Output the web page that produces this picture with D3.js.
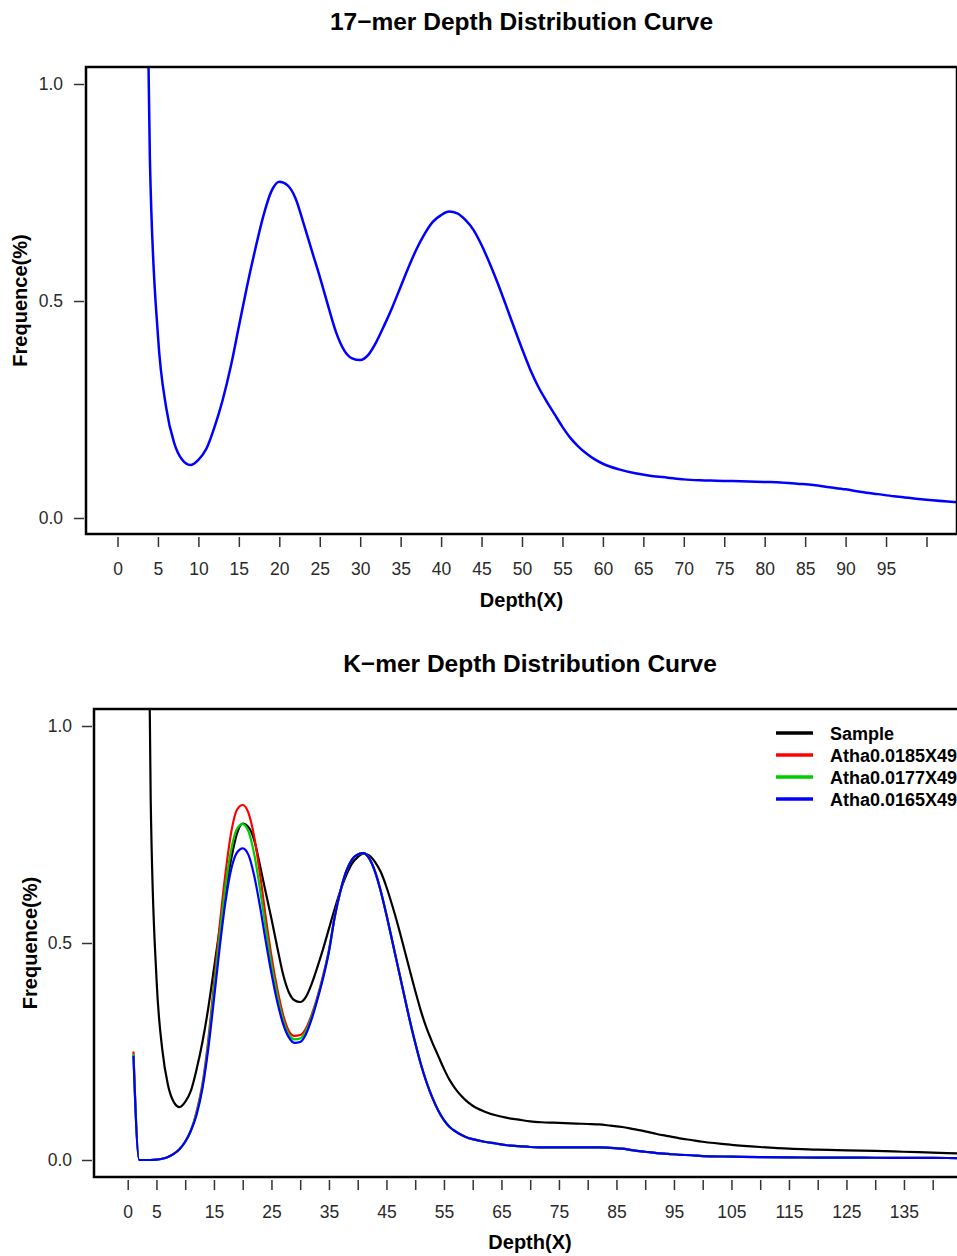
<!DOCTYPE html>
<html>
<head>
<meta charset="utf-8">
<script src="https://cdn.jsdelivr.net/npm/d3@7"></script>
<style>
  body { margin: 0; background: #fff; }
  svg { display: block; font-family: "Liberation Sans", Arial, sans-serif; }
  .tick text { font-size: 17.5px; fill: #2a2a2a; }
  .tick line { stroke: #333; stroke-width: 1.5; }
</style>
</head>
<body>
<svg id="chart" width="957" height="1256"></svg>
<script>
'use strict'

// depth (X) values of the curves
var depth = [1,2,3,4,5,6,7,8,9,10,11,12,13,14,15,16,17,18,19,20,
  21,22,23,24,25,26,27,28,29,30,31,32,33,34,35,36,37,38,39,40,
  41,42,43,44,45,46,47,48,49,50,51,52,53,54,55,56,57,58,59,60,
  62,64,66,68,70,72,74,76,78,80,82,84,86,88,90,92,94,96,98,100,
  105,110,115,120,125,130,135,140,145]

// frequence of the sample (17-mer), first depths are off the chart
var sample = [null,null,2.1,0.83,0.42,0.256,0.173,0.134,0.122,0.134,
  0.16,0.21,0.272,0.349,0.441,0.533,0.617,0.694,0.752,0.775,
  0.767,0.737,0.679,0.617,0.556,0.491,0.429,0.387,0.368,0.364,
  0.376,0.406,0.445,0.487,0.533,0.579,0.621,0.656,0.683,0.698,
  0.706,0.702,0.687,0.664,0.629,0.587,0.541,0.491,0.44,0.39,
  0.343,0.303,0.27,0.24,0.21,0.184,0.164,0.148,0.135,0.125,
  0.112,0.103,0.097,0.093,0.089,0.087,0.086,0.085,0.084,0.083,
  0.082,0.079,0.076,0.071,0.066,0.06,0.055,0.05,0.046,0.042,
  0.035,0.03,0.026,0.024,0.022,0.021,0.019,0.017,0.015]

var atha0185 = [0.25,0,0,0,0.001,0.003,0.007,0.014,0.025,0.042,
  0.068,0.113,0.175,0.275,0.405,0.54,0.66,0.755,0.807,0.818,
  0.8,0.745,0.66,0.56,0.47,0.395,0.336,0.298,0.286,0.288,
  0.303,0.335,0.376,0.426,0.484,0.56,0.62,0.665,0.692,0.704,
  0.707,0.695,0.665,0.62,0.565,0.505,0.445,0.385,0.325,0.27,
  0.22,0.178,0.143,0.114,0.092,0.076,0.066,0.058,0.052,0.048,
  0.042,0.038,0.034,0.032,0.03,0.029,0.029,0.029,0.029,0.029,
  0.029,0.028,0.026,0.022,0.019,0.016,0.014,0.012,0.011,0.009,
  0.0077,0.0065,0.006,0.0056,0.0054,0.0052,0.0049,0.0047,0.0045]

var atha0177 = [0.245,0,0,0,0.001,0.003,0.007,0.014,0.025,0.042,
  0.068,0.11,0.17,0.265,0.39,0.515,0.63,0.715,0.763,0.774,
  0.757,0.705,0.625,0.535,0.45,0.38,0.325,0.29,0.278,0.28,
  0.297,0.33,0.373,0.423,0.482,0.56,0.62,0.665,0.692,0.704,
  0.707,0.695,0.665,0.62,0.565,0.505,0.445,0.385,0.325,0.27,
  0.22,0.178,0.143,0.114,0.092,0.076,0.066,0.058,0.052,0.048,
  0.042,0.038,0.034,0.032,0.03,0.029,0.029,0.029,0.029,0.029,
  0.029,0.028,0.026,0.022,0.019,0.016,0.014,0.012,0.011,0.009,
  0.0077,0.0065,0.006,0.0056,0.0054,0.0052,0.0049,0.0047,0.0045]

var atha0165 = [0.24,0,0,0,0.001,0.003,0.007,0.014,0.025,0.042,
  0.068,0.105,0.165,0.255,0.37,0.49,0.595,0.67,0.708,0.718,
  0.703,0.655,0.585,0.505,0.43,0.365,0.315,0.283,0.27,0.272,
  0.29,0.325,0.37,0.42,0.48,0.56,0.62,0.665,0.692,0.704,
  0.707,0.695,0.665,0.62,0.565,0.505,0.445,0.385,0.325,0.27,
  0.22,0.178,0.143,0.114,0.092,0.076,0.066,0.058,0.052,0.048,
  0.042,0.038,0.034,0.032,0.03,0.029,0.029,0.029,0.029,0.029,
  0.029,0.028,0.026,0.022,0.019,0.016,0.014,0.012,0.011,0.009,
  0.0077,0.0065,0.006,0.0056,0.0054,0.0052,0.0049,0.0047,0.0045]

var legendNames  = ["Sample","Atha0.0185X49","Atha0.0177X49","Atha0.0165X49"]
var legendColors = ["#000000","#ff0000","#00cd00","#0000ff"]

var yTicks  = [0, 0.5, 1]
var yLabels = ["0.0","0.5","1.0"]

var topXTicks  = [0,5,10,15,20,25,30,35,40,45,50,55,60,65,70,75,80,85,90,95,100]
var topXLabels = ["0","5","10","15","20","25","30","35","40","45","50","55","60","65","70","75","80","85","90","95",""]

var botXTicks  = [0,5,10,15,20,25,30,35,40,45,50,55,60,65,70,75,80,85,90,95,100,105,110,115,120,125,130,135,140]
var botXLabels = ["0","5","","15","","25","","35","","45","","55","","65","","75","","85","","95","","105","","115","","125","","135",""]

var svg = d3.select("#chart")

function panel(o){
  var g = svg.append("g")
  var x = d3.scaleLinear().domain(o.xDomain).range(o.xRange)
  var y = d3.scaleLinear().domain([0,1]).range(o.yRange)

  g.append("clipPath").attr("id", o.id)
    .append("rect")
      .attr("x", o.box[0]).attr("y", o.box[1])
      .attr("width", o.box[2] - o.box[0]).attr("height", o.box[3] - o.box[1])

  var line = d3.line()
    .defined(d => d[1] != null)
    .curve(d3.curveMonotoneX)
    .x(d => x(d[0]))
    .y(d => y(d[1]))

  var plot = g.append("g").attr("clip-path", "url(#" + o.id + ")")
  o.series.forEach(s => {
    plot.append("path")
      .datum(depth.map((d,i) => [d, s.values[i]]))
      .attr("d", line)
      .attr("fill", "none")
      .attr("stroke", s.color)
      .attr("stroke-width", s.width)
      .attr("stroke-linejoin", "round")
  })

  // box
  g.append("rect")
    .attr("x", o.box[0]).attr("y", o.box[1])
    .attr("width", o.box[2] - o.box[0]).attr("height", o.box[3] - o.box[1])
    .attr("fill", "none").attr("stroke", "#000").attr("stroke-width", 2.5)

  var xAxis = g.append("g")
    .attr("transform", "translate(0," + (o.box[3] + 3) + ")")
    .call(d3.axisBottom(x).tickValues(o.xTicks).tickFormat((d,i) => o.xLabels[i])
      .tickSizeInner(10).tickSizeOuter(0).tickPadding(16))
  xAxis.select(".domain").remove()

  var yAxis = g.append("g")
    .attr("transform", "translate(" + (o.box[0] - 2) + ",0)")
    .call(d3.axisLeft(y).tickValues(yTicks).tickFormat((d,i) => yLabels[i])
      .tickSizeInner(10).tickSizeOuter(0).tickPadding(o.yPad))
  yAxis.select(".domain").remove()

  var cx = (o.box[0] + o.box[2]) / 2
  g.append("text")
    .attr("x", cx).attr("y", o.titleY)
    .attr("text-anchor", "middle")
    .style("font-size", "24.5px").style("font-weight", "bold")
    .text(o.title)

  g.append("text")
    .attr("x", cx).attr("y", o.xTitleY)
    .attr("text-anchor", "middle")
    .style("font-size", "20px").style("font-weight", "bold")
    .text("Depth(X)")

  g.append("text")
    .attr("transform", "translate(" + o.yTitleX + "," + (o.box[1] + o.box[3]) / 2 + ") rotate(-90)")
    .attr("text-anchor", "middle")
    .style("font-size", "20px").style("font-weight", "bold")
    .text("Frequence(%)")

  return g
}

panel({
  id: "clipTop",
  box: [86, 67, 957, 534],
  xDomain: [0, 100], xRange: [117.5, 926.5],
  yRange: [518, 84],
  xTicks: topXTicks, xLabels: topXLabels, yPad: 11,
  title: "17\u2212mer Depth Distribution Curve", titleY: 30,
  xTitleY: 607, yTitleX: 27,
  series: [{values: sample, color: "#0000ff", width: 2.5}]
})

var bottom = panel({
  id: "clipBot",
  box: [94, 709, 966, 1177],
  xDomain: [0, 140], xRange: [127.7, 932.7],
  yRange: [1160, 726],
  xTicks: botXTicks, xLabels: botXLabels, yPad: 10,
  title: "K\u2212mer Depth Distribution Curve", titleY: 672,
  xTitleY: 1249, yTitleX: 37,
  series: [
    {values: sample,   color: legendColors[0], width: 2.2},
    {values: atha0185, color: legendColors[1], width: 2.2},
    {values: atha0177, color: legendColors[2], width: 2.2},
    {values: atha0165, color: legendColors[3], width: 2.2}
  ]
})

// legend
var legend = bottom.append("g").attr("transform", "translate(776,733)")
var items = legend.selectAll("g")
  .data(legendNames)
  .enter()
    .append("g")
    .attr("transform", (d,i) => "translate(0," + i * 22 + ")")
items.append("line")
  .attr("x1", 0).attr("x2", 37)
  .attr("stroke", (d,i) => legendColors[i])
  .attr("stroke-width", 3.5)
items.append("text")
  .attr("x", 54).attr("y", 6.5)
  .style("font-size", "18px").style("font-weight", "bold")
  .text(d => d)
</script>
</body>
</html>
